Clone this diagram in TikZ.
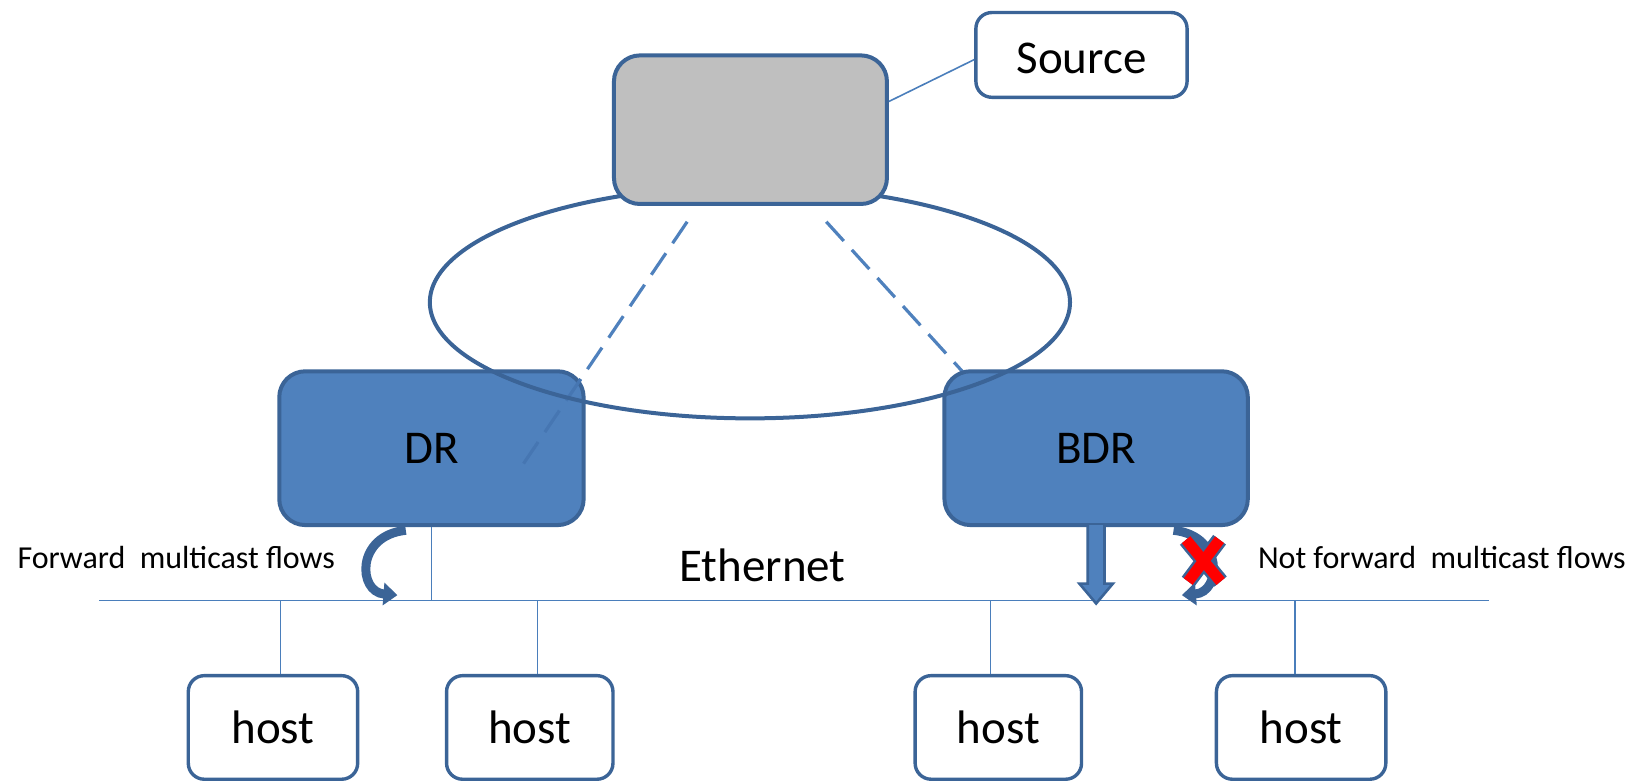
\documentclass[tikz,border=0pt]{standalone}
\usepackage{fontspec}
\setmainfont{Carlito}
\usetikzlibrary{shapes.geometric,arrows.meta}
\definecolor{boxline}{HTML}{3B6497}
\definecolor{boxfill}{HTML}{4F81BD}
\definecolor{grayfill}{HTML}{BFBFBF}
\definecolor{thinline}{HTML}{4A7EBB}
\definecolor{dashin}{HTML}{4676B2}
\begin{document}
\begin{tikzpicture}[x=0.523pt,y=-0.523pt,
  box/.style={draw=boxline, line width=2pt, rounded corners=13pt, inner sep=0pt},
  smallbox/.style={draw=boxline, line width=1.7pt, rounded corners=8pt, inner sep=0pt, fill=white},
  big/.style={font=\fontsize{23.5}{26}\selectfont},
  small/.style={font=\fontsize{16}{19}\selectfont},
  thin/.style={draw=thinline, line width=0.8pt},
  dashline/.style={draw=boxfill, line width=1.6pt, dash pattern=on 13pt off 6pt},
  curvearrow/.style={draw=boxline, line width=4.5pt, -{Triangle[length=7pt,width=11pt]}},
  hostbox/.style={smallbox, big, minimum height=51.8pt}
]
\useasboundingbox (0,0) rectangle (1568,748);

% Ethernet bus
\coordinate (eL) at (95,574);
\coordinate (eR) at (1424,574);
\draw[thin] (eL) -- (eR);

% dashed lines (under the router boxes)
\coordinate (d1a) at (657,212);
\coordinate (d1b) at (498,447);
\coordinate (d2a) at (790,212);
\coordinate (d2b) at (930,366);
\draw[dashline] (d1a) -- (d1b);
\draw[dashline] (d2a) -- (d2b);

% routers
\node[box, fill=boxfill, big, minimum width=152.2pt, minimum height=76.9pt] (dr) at (412.5,428.5) {DR};
\node[box, fill=boxfill, big, minimum width=151.7pt, minimum height=76.9pt] (bdr) at (1048,428.5) {BDR};

% faint part of dashed line over DR
\begin{scope}
  \clip (269,357) rectangle (556,500);
  \draw[dashline, draw=dashin] (d1a) -- (d1b);
\end{scope}

% ring
\node[ellipse, draw=boxline, line width=2pt, inner sep=0pt, minimum width=320.1pt, minimum height=116.1pt] (ring) at (717,289) {};

% top router
\node[box, fill=grayfill, minimum width=136.5pt, minimum height=74.3pt] (top) at (717.5,124) {};

% source
\node[smallbox, big, minimum width=105.6pt, minimum height=42.4pt, text height=19pt, text depth=0pt] (src) at (1034,52.5) {Source};
\draw[thin] (top.east |- 0,97) -- (src.west |- 0,57);

% drops
\draw[thin] (dr.south) -- (dr.south |- eL);

% hosts
\node[hostbox, minimum width=84.7pt] (h1) at (261,695.5) {host};
\node[hostbox, minimum width=83.2pt] (h2) at (506.5,695.5) {host};
\node[hostbox, minimum width=83.2pt] (h3) at (954.5,695.5) {host};
\node[hostbox, minimum width=84.7pt] (h4) at (1244,695.5) {host};
\draw[thin] (h1.north -| 268,0) -- (268,574);
\draw[thin] (h2.north -| 514,0) -- (514,574);
\draw[thin] (h3.north -| 947,0) -- (947,574);
\draw[thin] (h4.north -| 1238,0) -- (1238,574);

% DR forward arrow
\draw[curvearrow] (388,507) .. controls (340,512) and (342,566) .. (380,569);
% BDR not forward arrow
\draw[curvearrow] (1122,507) .. controls (1170,512) and (1168,566) .. (1130,569);

% BDR down block arrow
\draw[fill=boxfill, draw=boxline, line width=1.3pt, line join=miter]
  (1040,502) -- (1040,558) -- (1032,558) -- (1048,577) -- (1064,558) -- (1056,558) -- (1056,502);

% red X
\draw[boxline, line width=8pt] (1134,516) -- (1167,556) (1166,516) -- (1136,556);
\draw[red, line width=5.5pt] (1134,516) -- (1167,556) (1166,516) -- (1136,556);

% labels
\node[big] (eth) at (729,541) {Ethernet};
\node[small, anchor=west] (fwd) at (10,533) {Forward\ \ multicast flows};
\node[small, anchor=west] (nfwd) at (1196,533) {Not forward\ \ multicast flows};
\end{tikzpicture}
\end{document}
